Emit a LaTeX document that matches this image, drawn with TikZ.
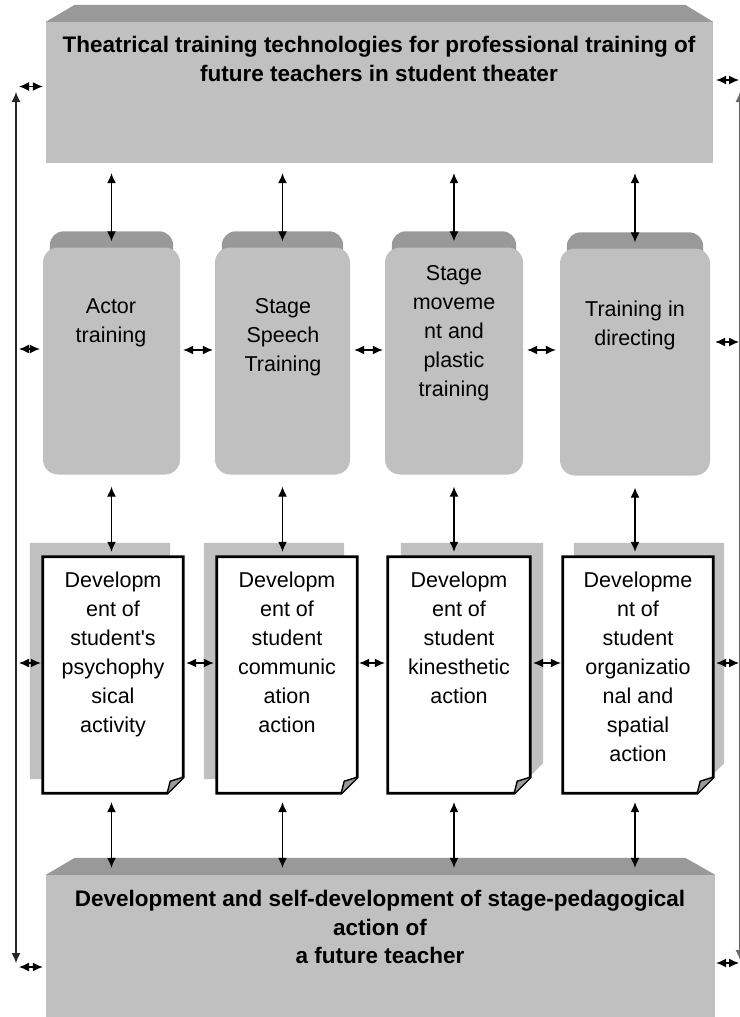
\documentclass[tikz,border=0pt]{standalone}
\usepackage{fontspec}
\setmainfont{Liberation Sans}
\usetikzlibrary{calc,backgrounds,arrows.meta}

\definecolor{plategray}{HTML}{C0C0C0}
\definecolor{bandgray}{HTML}{999999}
\definecolor{foldgray}{HTML}{9A9A9A}

\begin{document}
\begin{tikzpicture}
            [
                x=1pt, y=-1pt,
                >={Latex[length=10pt,width=9pt]},
                link/.style={<->, line width=1.3pt},
                plate/.style={rectangle, fill=plategray, inner sep=0pt},
                heading/.style={font=\fontsize{22.5}{28.5}\selectfont\bfseries, align=center, inner sep=0pt},
                block/.style={rectangle, rounded corners=15pt, fill=plategray, inner sep=0pt, minimum height=227pt},
                blockcap/.style={font=\fontsize{21.5}{29}\selectfont, align=center, inner sep=0pt},
                sheet/.style={rectangle, inner sep=0pt, minimum height=236pt},
                sheetcap/.style={font=\fontsize{21.5}{29}\selectfont, align=center, inner sep=0pt, anchor=north}
            ]
            \useasboundingbox (0,0) rectangle (739,1017);

            % top and bottom plates
            \node[plate, minimum width=667pt, minimum height=141pt] (top) at (379.5,92.5) {};
            \fill[bandgray] (top.north west) -- ++(29,-17) -- ($(top.north east)+(-28,-17)$) -- (top.north east) -- cycle;
            \node[heading] (topText) at (379,59) {Theatrical training technologies for professional training of\\future teachers in student theater};

            \node[plate, minimum width=669pt, minimum height=145pt] (bottom) at (380.5,947.5) {};
            \fill[bandgray] (bottom.north west) -- ++(29,-17) -- ($(bottom.north east)+(-30,-17)$) -- (bottom.north east) -- cycle;
            \node[heading] (bottomText) at (380,927) {Development and self-development of stage-pedagogical\\action of\\a future teacher};

            % training blocks
            \node[block, minimum width=137pt] (b1) at (111.5,361) {};
            \node[block, minimum width=135pt] (b2) at (282.5,361) {};
            \node[block, minimum width=138pt] (b3) at (454,361) {};
            \node[block, minimum width=150pt] (b4) at (635,362) {};
            \begin{scope}[on background layer]
                \foreach \b in {b1,b2,b3,b4}
                    \fill[bandgray, rounded corners=14pt] ($(\b.north west)+(7,-16)$) rectangle ($(\b.north east)+(-7,40)$);
            \end{scope}
            \node[blockcap] (b1Text) at (111,323) {Actor\\training};
            \node[blockcap] (b2Text) at (283,337) {Stage\\Speech\\Training};
            \node[blockcap] (b3Text) at (454,333) {Stage\\moveme\\nt and\\plastic\\training};
            \node[blockcap] (b4Text) at (635,325) {Training in\\directing};

            % development sheets
            \node[sheet, minimum width=140pt] (d1) at (113,675) {};
            \node[sheet, minimum width=140pt] (d2) at (287,675) {};
            \node[sheet, minimum width=142pt] (d3) at (459,675) {};
            \node[sheet, minimum width=150pt] (d4) at (638,675) {};
            \foreach \n/\dx in {d1/-13, d2/-13, d3/13, d4/11} {
                \fill[plategray] ($(\n.north west)+(\dx,-14)$) -- ($(\n.north east)+(\dx,-14)$)
                    -- ($(\n.south east)+(\dx,-30)$) -- ($(\n.south east)+(\dx-16,-14)$)
                    -- ($(\n.south west)+(\dx,-14)$) -- cycle;
                \filldraw[fill=white, line width=2.8pt] (\n.north west) -- (\n.north east)
                    -- ([yshift=16pt]\n.south east) -- ([xshift=-16pt]\n.south east)
                    -- (\n.south west) -- cycle;
                \filldraw[fill=foldgray, line width=1.4pt, line join=round] ([xshift=-16pt]\n.south east)
                    -- ([xshift=-13pt,yshift=12pt]\n.south east) -- ([yshift=16pt]\n.south east);
            }
            \node[sheetcap] (d1Text) at (113,572) {Developm\\ent of\\student\textquotesingle s\\psychophy\\sical\\activity};
            \node[sheetcap] (d2Text) at (287,572) {Developm\\ent of\\student\\communic\\ation\\action};
            \node[sheetcap] (d3Text) at (459,572) {Developm\\ent of\\student\\kinesthetic\\action};
            \node[sheetcap] (d4Text) at (638,572) {Developme\\nt of\\student\\organizatio\\nal and\\spatial\\action};

            % vertical links
            \foreach \b/\d in {b1/d1, b2/d2, b3/d3, b4/d4} {
                \draw[link] ($(\b.north |- top.south)+(0,10)$) -- ($(\b.north)+(0,-6)$);
                \draw[link] ($(\b.south)+(0,12)$) -- ($(\b.south |- \d.north)+(0,-5)$);
                \draw[link] ($(\b.south |- \d.south)+(0,9)$) -- ($(\b.south |- bottom.north)+(0,-7)$);
            }

            % horizontal links
            \draw[link] ($(b1.east)+(3,-11)$) -- ($(b2.west)+(-2,-11)$);
            \draw[link] ($(b2.east)+(4,-11)$) -- ($(b3.west)+(-2,-11)$);
            \draw[link] ($(b3.east)+(4,-11)$) -- ($(b4.west)+(-4,-12)$);
            \draw[link] ($(d1.east)+(3,-12)$) -- ($(d2.west)+(-3,-12)$);
            \draw[link] ($(d2.east)+(2,-12)$) -- ($(d3.west)+(-3,-12)$);
            \draw[link] ($(d3.east)+(3,-12)$) -- ($(d4.west)+(-2,-12)$);

            % side rails
            \coordinate (railL) at (16,92);
            \coordinate (railLb) at (16,963);
            \coordinate (railR) at (740,92);
            \coordinate (railRb) at (740,960);
            \draw[<->, line width=1.2pt, black!85] (railL) -- (railLb);
            \draw[<->, line width=1.2pt, black!60] (railR) -- (railRb);
            \draw[link] ($(railL |- top.west)+(3,-6)$) -- ($(top.west)+(-3,-6)$);
            \draw[link] ($(railL |- b1.west)+(3,-12)$) -- ($(b1.west)+(-3,-12)$);
            \draw[link] ($(railL |- d1.west)+(3,-12)$) -- ($(d1.west)+(-2,-12)$);
            \draw[link] ($(railL |- bottom.west)+(3,19.5)$) -- ($(bottom.west)+(-3,19.5)$);
            \draw[link] ($(top.east)+(3,-12.5)$) -- ($(railR |- top.east)+(-1,-12.5)$);
            \draw[link] ($(b4.east)+(5,-20)$) -- ($(railR |- b4.east)+(-1,-20)$);
            \draw[link] ($(d4.east)+(3,-12)$) -- ($(railR |- d4.east)+(-1,-12)$);
            \draw[link] ($(bottom.east)+(1,15.5)$) -- ($(railR |- bottom.east)+(-1,15.5)$);
\end{tikzpicture}
\end{document}
